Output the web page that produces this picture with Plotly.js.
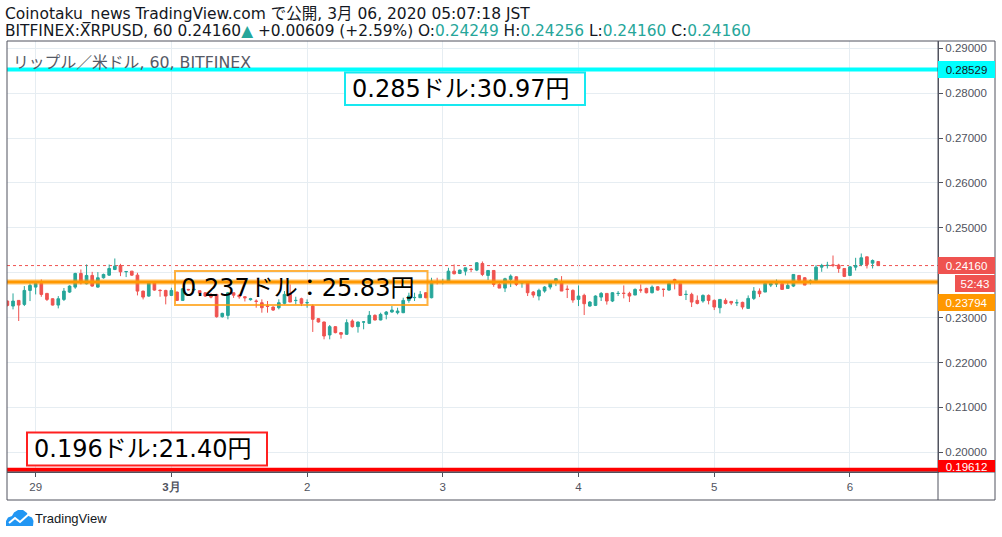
<!DOCTYPE html>
<html>
<head>
<meta charset="utf-8">
<script src="https://cdn.plot.ly/plotly-3.0.1.min.js"></script>
<style>html,body{margin:0;padding:0;background:#fff;}#chart{width:1002px;height:537px;}</style>
</head>
<body>
<div id="chart"></div>
<script>
// ---- data (hourly candles, BITFINEX XRPUSD, from 2020-02-28 19:00 JST) ----
const startTime = '2020-02-28T19:00:00Z';
const openP = [0.23369,0.23258,0.23384,0.23295,0.23606,0.23680,0.23762,0.23540,0.23421,0.23280,
0.23406,0.23569,0.23680,0.23984,0.23755,0.23940,0.23680,0.23888,0.23947,0.24073,
0.24162,0.24021,0.24036,0.23947,0.23591,0.23480,0.23777,0.23610,0.23606,0.23495,
0.23569,0.23384,0.23629,0.23620,0.23600,0.23554,0.23480,0.23517,0.23021,0.23050,
0.23554,0.23500,0.23465,0.23400,0.23370,0.23332,0.23258,0.23236,0.23221,0.23318,
0.23518,0.23380,0.23421,0.23330,0.23258,0.22977,0.22903,0.22614,0.22799,0.22666,
0.22629,0.22925,0.22799,0.22900,0.22873,0.23051,0.22947,0.23073,0.23125,0.23110,
0.23110,0.23384,0.23444,0.23444,0.23555,0.23444,0.23805,0.23800,0.23814,0.24036,
0.23984,0.24036,0.24078,0.24059,0.24207,0.23940,0.24051,0.23740,0.23658,0.23851,
0.23910,0.23775,0.23777,0.23570,0.23481,0.23592,0.23681,0.23814,0.23792,0.23635,
0.23607,0.23407,0.23496,0.23258,0.23273,0.23458,0.23540,0.23370,0.23538,0.23543,
0.23540,0.23503,0.23617,0.23651,0.23555,0.23688,0.23632,0.23614,0.23851,0.23755,
0.23515,0.23518,0.23384,0.23370,0.23495,0.23384,0.23221,0.23384,0.23362,0.23330,
0.23340,0.23206,0.23429,0.23592,0.23570,0.23725,0.23752,0.23755,0.23651,0.23703,
0.23940,0.23888,0.23810,0.23829,0.24125,0.24160,0.24173,0.24170,0.24095,0.23940,
0.24125,0.24184,0.24355,0.24214,0.24249];
const highP = [0.23380,0.23540,0.23390,0.23703,0.23762,0.23790,0.23851,0.23550,0.23430,0.23480,
0.23660,0.23720,0.24000,0.24073,0.24184,0.24020,0.24014,0.23980,0.24184,0.24318,
0.24199,0.24030,0.24040,0.23999,0.23600,0.23814,0.23790,0.23629,0.23620,0.23666,
0.23580,0.23660,0.23640,0.23650,0.23610,0.23570,0.23550,0.23530,0.23110,0.23570,
0.23560,0.23520,0.23480,0.23440,0.23407,0.23407,0.23370,0.23250,0.23407,0.23592,
0.23740,0.23466,0.23444,0.23407,0.23295,0.22990,0.22910,0.22836,0.22810,0.22680,
0.22962,0.22962,0.22910,0.22925,0.23147,0.23073,0.23110,0.23147,0.23258,0.23221,
0.23444,0.23555,0.23555,0.23592,0.23570,0.23888,0.23888,0.23866,0.24110,0.24185,
0.24070,0.24110,0.24110,0.24236,0.24251,0.24051,0.24051,0.23777,0.23888,0.23962,
0.23920,0.23814,0.23792,0.23592,0.23644,0.23703,0.23814,0.23881,0.23925,0.23718,
0.23629,0.23718,0.23533,0.23370,0.23496,0.23570,0.23540,0.23570,0.23592,0.23718,
0.23577,0.23651,0.23740,0.23666,0.23718,0.23700,0.23644,0.23780,0.23866,0.23755,
0.23607,0.23555,0.23495,0.23518,0.23518,0.23406,0.23406,0.23429,0.23362,0.23406,
0.23355,0.23495,0.23681,0.23651,0.23792,0.23792,0.23851,0.23755,0.23792,0.23962,
0.23940,0.23903,0.23851,0.24170,0.24199,0.24244,0.24384,0.24199,0.24095,0.24147,
0.24333,0.24429,0.24355,0.24296,0.24256];
const lowP = [0.23250,0.23184,0.22925,0.23258,0.23369,0.23517,0.23465,0.23370,0.23270,0.23206,
0.23370,0.23550,0.23643,0.23740,0.23740,0.23688,0.23666,0.23870,0.23930,0.24058,
0.23925,0.23903,0.23930,0.23495,0.23406,0.23465,0.23600,0.23465,0.23295,0.23480,
0.23370,0.23370,0.23600,0.23600,0.23480,0.23460,0.23430,0.23000,0.23000,0.22962,
0.23440,0.23420,0.23360,0.23380,0.23221,0.23110,0.23110,0.23150,0.23184,0.23295,
0.23347,0.23295,0.23258,0.23221,0.22681,0.22890,0.22517,0.22517,0.22650,0.22532,
0.22615,0.22777,0.22666,0.22740,0.22860,0.22940,0.22940,0.22962,0.23110,0.23073,
0.23100,0.23332,0.23370,0.23440,0.23430,0.23430,0.23740,0.23740,0.23800,0.23962,
0.23970,0.23940,0.24014,0.24036,0.23925,0.23836,0.23688,0.23658,0.23570,0.23681,
0.23703,0.23666,0.23481,0.23444,0.23384,0.23555,0.23629,0.23703,0.23592,0.23436,
0.23332,0.23258,0.23058,0.23243,0.23258,0.23370,0.23290,0.23347,0.23481,0.23429,
0.23347,0.23503,0.23555,0.23540,0.23540,0.23600,0.23466,0.23600,0.23629,0.23481,
0.23392,0.23236,0.23295,0.23332,0.23295,0.23169,0.23095,0.23295,0.23280,0.23258,
0.23184,0.23206,0.23392,0.23458,0.23570,0.23681,0.23681,0.23629,0.23651,0.23681,
0.23829,0.23725,0.23740,0.23829,0.24021,0.24095,0.24125,0.23999,0.23903,0.23925,
0.24050,0.24147,0.24095,0.24095,0.24160];
const closeP = [0.23273,0.23369,0.23280,0.23606,0.23718,0.23762,0.23517,0.23406,0.23280,0.23421,
0.23591,0.23703,0.23984,0.23777,0.23940,0.23703,0.23888,0.23962,0.24095,0.24147,
0.24021,0.24028,0.23947,0.23591,0.23458,0.23777,0.23614,0.23603,0.23480,0.23606,
0.23384,0.23643,0.23620,0.23630,0.23547,0.23480,0.23460,0.23021,0.23095,0.23554,
0.23500,0.23465,0.23443,0.23420,0.23362,0.23221,0.23250,0.23169,0.23332,0.23518,
0.23347,0.23384,0.23318,0.23335,0.22962,0.22903,0.22591,0.22799,0.22666,0.22629,
0.22888,0.22799,0.22903,0.22905,0.23051,0.22947,0.23073,0.23125,0.23169,0.23147,
0.23384,0.23481,0.23450,0.23518,0.23444,0.23814,0.23799,0.23805,0.24036,0.23977,
0.24059,0.24110,0.24073,0.24222,0.23962,0.24051,0.23740,0.23658,0.23866,0.23925,
0.23740,0.23777,0.23555,0.23503,0.23607,0.23681,0.23777,0.23866,0.23592,0.23629,
0.23392,0.23481,0.23310,0.23347,0.23481,0.23540,0.23370,0.23555,0.23540,0.23540,
0.23481,0.23629,0.23614,0.23555,0.23681,0.23614,0.23629,0.23762,0.23814,0.23495,
0.23518,0.23347,0.23317,0.23495,0.23384,0.23236,0.23406,0.23317,0.23325,0.23332,
0.23236,0.23429,0.23592,0.23532,0.23762,0.23762,0.23755,0.23629,0.23718,0.23962,
0.23829,0.23725,0.23814,0.24125,0.24162,0.24165,0.24170,0.24095,0.23918,0.24132,
0.24162,0.24333,0.24184,0.24273,0.24160];

const dayTicks = ['2020-02-29','2020-03-01','2020-03-02','2020-03-03','2020-03-04','2020-03-05','2020-03-06'];
const dayLabels = ['29','<b>3月</b>','2','3','4','5','6'];
const priceTicks = [0.20,0.21,0.22,0.23,0.24,0.25,0.26,0.27,0.28,0.29];
const priceTickLabels = ['0.20000','0.21000','0.22000','0.23000','','0.25000','0.26000','0.27000','0.28000','0.29000'];

const levelHigh = 0.28529, levelMid = 0.23794, levelLow = 0.19612, lastPrice = 0.24160;
const labelHigh = '0.285ドル:30.97円';
const labelMid = '0.237ドル：25.83円';
const labelLow = '0.196ドル:21.40円';
const countdown = '52:43';

// hourly timestamps
const times = openP.map((_, i) => {
  const d = new Date(Date.parse(startTime) + i * 3600000);
  return d.toISOString().slice(0, 16).replace('T', ' ');
});

// ---- geometry helpers (pixel -> paper) ----
const L = 7, R = 938, T = 41, B = 472;
const PX = px => (px - L) / (R - L);
const PY = py => (B - py) / (B - T);
function pathFrom(pts, close) {
  return pts.map((p, i) => (i ? 'L' : 'M') + PX(p[0]).toFixed(5) + ',' + PY(p[1]).toFixed(5)).join(' ') + (close ? ' Z' : '');
}

const frameColor = '#50535e';
const gridColor = '#e6edf2';
const txt = '#131722';
const teal = '#26a69a';

const trace = {
  type: 'candlestick',
  x: times, open: openP, high: highP, low: lowP, close: closeP,
  increasing: {line: {color: teal, width: 1}, fillcolor: teal},
  decreasing: {line: {color: '#ef5350', width: 1}, fillcolor: '#ef5350'},
  whiskerwidth: 0,
  hoverinfo: 'none'
};

const shapes = [
  {type: 'line', xref: 'paper', yref: 'y', x0: 0, x1: 1, y0: lastPrice, y1: lastPrice, layer: 'below',
   line: {color: '#ef5350', width: 1, dash: 'dot'}},
  {type: 'line', xref: 'paper', yref: 'y', x0: 0, x1: 1, y0: levelHigh, y1: levelHigh, line: {color: '#00ffff', width: 4}},
  {type: 'line', xref: 'paper', yref: 'y', x0: 0, x1: 1, y0: levelMid, y1: levelMid, line: {color: 'rgba(255,152,0,0.4)', width: 5.5}},
  {type: 'line', xref: 'paper', yref: 'y', x0: 0, x1: 1, y0: levelMid, y1: levelMid, line: {color: '#ff9800', width: 3}},
  {type: 'line', xref: 'paper', yref: 'y', x0: 0, x1: 1, y0: levelLow, y1: levelLow, line: {color: '#ff0000', width: 4}},
  {type: 'rect', xref: 'paper', yref: 'paper', x0: PX(345), x1: PX(585), y0: PY(105), y1: PY(72.5),
   fillcolor: '#ffffff', line: {color: '#18e8f0', width: 2}},
  {type: 'rect', xref: 'paper', yref: 'paper', x0: PX(175), x1: PX(427.5), y0: PY(305), y1: PY(271),
   fillcolor: 'rgba(0,0,0,0)', line: {color: 'rgba(255,152,0,0.75)', width: 2}},
  {type: 'rect', xref: 'paper', yref: 'paper', x0: PX(27), x1: PX(267), y0: PY(465.5), y1: PY(432.5),
   fillcolor: '#ffffff', line: {color: '#ff2020', width: 2}},
  {type: 'rect', xref: 'paper', yref: 'paper', x0: 0, x1: PX(995), y0: PY(500), y1: 1, line: {color: frameColor, width: 1}},
  {type: 'line', xref: 'paper', yref: 'paper', x0: 1, x1: 1, y0: PY(500), y1: 1, line: {color: frameColor, width: 1}},
  {type: 'line', xref: 'paper', yref: 'paper', x0: 0, x1: PX(995), y0: 0, y1: 0, line: {color: frameColor, width: 1}},
  {type: 'path', xref: 'paper', yref: 'paper', fillcolor: '#2196f3', line: {width: 0},
   path: pathFrom([[6,526],[6,521],[8,517.5],[12,516],[14,512.5],[18,510],[23,510],[27,513],[28.5,516],[32,517.5],[33.5,521],[33,526]], true)},
  {type: 'path', xref: 'paper', yref: 'paper', line: {color: '#ffffff', width: 2},
   path: pathFrom([[9,523],[15,518],[20,522],[29,514]], false)}
];

function boxLabel(text, py, bg, fg, extra) {
  return Object.assign({xref: 'paper', yref: 'paper', x: 1, y: PY(py), xanchor: 'left', yanchor: 'middle',
    text: text, showarrow: false, bgcolor: bg, borderwidth: 0, borderpad: 2, width: 53, height: 13,
    align: 'center', font: {family: 'Liberation Sans, Arial, sans-serif', size: 11.5, color: fg}}, extra || {});
}

const hdrFamily = 'DejaVu Sans, Noto Sans CJK JP, sans-serif';
const bigFont = {family: hdrFamily, size: 24, color: '#000000'};

const annotations = [
  {xref: 'paper', yref: 'paper', x: PX(3), y: PY(14), xanchor: 'left', yanchor: 'middle', showarrow: false,
   text: 'Coinotaku_news TradingView.com で公開, 3月 06, 2020 05:07:18 JST', font: {family: hdrFamily, size: 15.5, color: txt}},
  {xref: 'paper', yref: 'paper', x: PX(3), y: PY(31), xanchor: 'left', yanchor: 'middle', showarrow: false,
   text: 'BITFINEX:XRPUSD, 60 0.24160<span style="color:' + teal + '">▲</span> +0.00609 (+2.59%) O:<span style="color:' + teal + '">0.24249</span> H:<span style="color:' + teal + '">0.24256</span> L:<span style="color:' + teal + '">0.24160</span> C:<span style="color:' + teal + '">0.24160</span>',
   font: {family: hdrFamily, size: 15.4, color: txt}},
  {xref: 'paper', yref: 'paper', x: PX(11), y: PY(62), xanchor: 'left', yanchor: 'middle', showarrow: false,
   text: 'リップル／米ドル, 60, BITFINEX', font: {family: hdrFamily, size: 15.8, color: '#555a66'}},
  {xref: 'paper', yref: 'paper', x: PX(461), y: PY(89), xanchor: 'center', yanchor: 'middle', showarrow: false, text: labelHigh, font: bigFont},
  {xref: 'paper', yref: 'paper', x: PX(297.5), y: PY(288), xanchor: 'center', yanchor: 'middle', showarrow: false, text: labelMid, font: bigFont},
  {xref: 'paper', yref: 'paper', x: PX(142.5), y: PY(449), xanchor: 'center', yanchor: 'middle', showarrow: false, text: labelLow, font: bigFont},
  boxLabel(levelHigh.toFixed(5), 69, '#00ffff', txt),
  boxLabel(lastPrice.toFixed(5), 265, '#ef5350', '#ffffff'),
  boxLabel(countdown, 283.5, '#ef5350', '#ffffff', {x: PX(955), width: 36}),
  boxLabel(levelMid.toFixed(5), 302, '#ff9800', '#ffffff'),
  boxLabel(levelLow.toFixed(5), 466, '#ff0000', '#ffffff', {height: 10, borderpad: 1, width: 55, valign: 'top'}),
  {xref: 'paper', yref: 'paper', x: PX(33), y: PY(518), xanchor: 'left', yanchor: 'middle', showarrow: false,
   text: 'TradingView', font: {family: 'Liberation Sans, Arial, sans-serif', size: 13, color: txt}}
];

const tickFont = {family: 'Liberation Sans, Arial, sans-serif', size: 11.5, color: frameColor};

const layout = {
  width: 1002, height: 537,
  margin: {l: L, r: 1002 - R, t: T, b: 537 - B, pad: 0},
  paper_bgcolor: '#ffffff', plot_bgcolor: '#ffffff',
  showlegend: false, dragmode: false, boxgap: 0.33,
  xaxis: {
    type: 'date', range: ['2020-02-28 18:56', '2020-03-06 15:34'],
    tickmode: 'array', tickvals: dayTicks, ticktext: dayLabels,
    showgrid: true, gridcolor: gridColor, gridwidth: 1, zeroline: false,
    ticks: 'outside', ticklen: 4, tickcolor: frameColor,
    showline: true, linecolor: frameColor, linewidth: 1,
    tickfont: tickFont, rangeslider: {visible: false}, fixedrange: true
  },
  yaxis: {
    side: 'right', range: [0.19561, 0.29163],
    tickmode: 'array', tickvals: priceTicks, ticktext: priceTickLabels,
    showgrid: true, gridcolor: gridColor, gridwidth: 1, zeroline: false,
    ticks: 'outside', ticklen: 4, tickcolor: frameColor,
    showline: true, linecolor: frameColor, linewidth: 1,
    tickfont: tickFont, fixedrange: true
  },
  shapes: shapes,
  annotations: annotations
};

Plotly.newPlot('chart', [trace], layout, {staticPlot: true, displayModeBar: false});
</script>
</body>
</html>
